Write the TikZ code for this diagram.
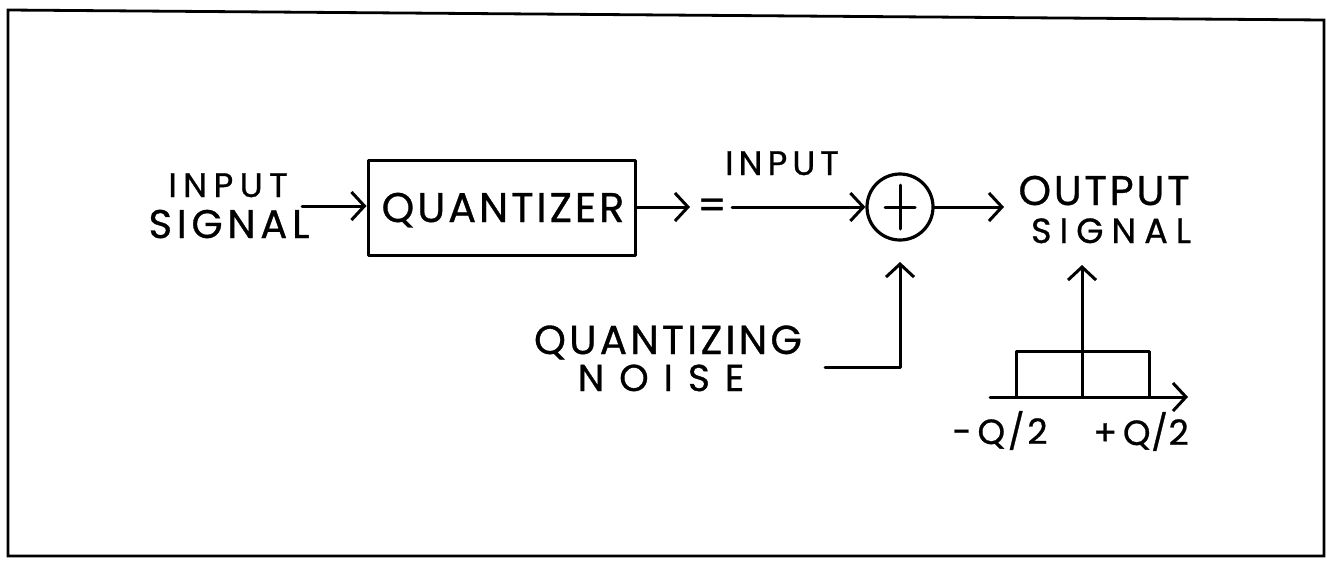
\documentclass[tikz,border=0pt]{standalone}
\usepackage{fontspec}
\newfontfamily\hand{Poppins}[FakeBold=0.8]
\usetikzlibrary{arrows.meta}
\newcommand\hf[2]{\hand\fontsize{#1}{#1}\selectfont\addfontfeature{LetterSpace=#2}}
\tikzset{
  ln/.style={line width=3pt, line cap=round, line join=round},
  arr/.style={ln, -{Straight Barb[length=13pt,width=28pt,line width=3pt]}},
  lbl/.style={inner sep=0pt, anchor=base, text depth=1pt},
}
\begin{document}
\begin{tikzpicture}[x=1pt,y=-1pt]
\useasboundingbox (0,0) rectangle (1327,560);
\fill[white] (0,0) rectangle (1327,560);
% frame
\draw[line width=2.8pt] (8,10) -- (1324,20) -- (1324,556) -- (8,556) -- cycle;
% labels
\node[lbl, text height=23pt, font=\hf{34}{19}] (in1) at (228,197) {INPUT};
\node[lbl, text height=27pt, font=\hf{40}{12}] (in2) at (229,238) {SIGNAL};
\node[ln, draw, minimum width=267pt, minimum height=95pt, inner sep=0pt] (quant) at (501.5,207.5) {};
\node[lbl, text height=29pt, font=\hf{41.5}{7}] (qtext) at (503,222) {QUANTIZER};
\node[lbl, text height=12pt, font=\hf{40}{0}] (eq) at (712,219) {=};
\node[lbl, text height=23pt, font=\hf{34}{15}] (inlab) at (782,175) {INPUT};
\node[line width=3.2pt, draw, circle, minimum size=66pt, inner sep=0pt] (sum) at (900,207) {};
\draw[ln] (sum.center) ++(-15,0) -- ++(30,0);
\draw[ln] (sum.center) ++(0,-22) -- ++(0,44);
\node[lbl, text height=29pt, font=\hf{41.5}{6.5}] (out1) at (1104,205) {OUTPUT};
\node[lbl, text height=24pt, font=\hf{35}{23}] (out2) at (1111,243) {SIGNAL};
\node[lbl, text height=28pt, font=\hf{40.5}{8}] (noise1) at (668,354) {QUANTIZING};
\node[lbl, text height=25pt, font=\hf{37.5}{40}] (noise2) at (661,391) {NOISE};
% connectors
\coordinate (a0) at (302,206);
\draw[arr] (a0) -- (quant.west |- a0);
\coordinate (a1) at (690,207);
\draw[arr] (quant.east |- a1) -- (a1);
\coordinate (a2) at (732,207);
\draw[arr] (a2) -- (sum.west);
\coordinate (a3) at (1004,207);
\draw[arr] (sum.east) -- (a3);
\coordinate (n0) at (825,367);
\coordinate (n1) at (900,367);
\coordinate (n2) at (900,262);
\draw[arr] (n0) -- (n1) -- (n2);
% plot
\coordinate (o) at (1082,397);
\coordinate (xl) at (990,397);
\coordinate (xr) at (1188,397);
\coordinate (yt) at (1082,265);
\draw[arr] (xl) -- (xr);
\draw[arr] (o) -- (yt);
\draw[ln] (1016,397) -- (1016,351) -- (1149,351) -- (1149,397);
\node[lbl, text height=24pt, font=\hf{35}{8}] (qm) at (1000,444) {-\,Q/2};
\node[lbl, text height=24pt, font=\hf{35}{2}] (qp) at (1141,445) {+\,Q/2};
\end{tikzpicture}
\end{document}
